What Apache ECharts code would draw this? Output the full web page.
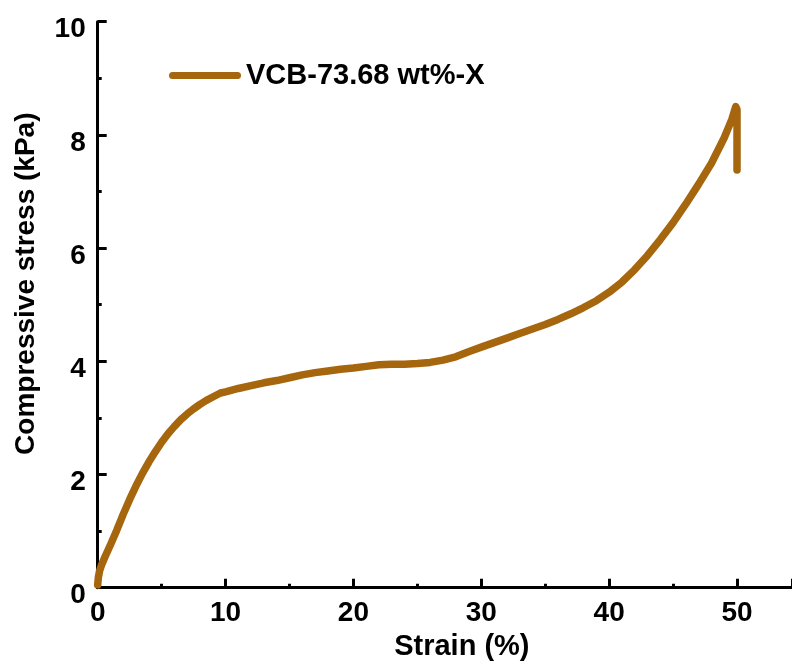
<!DOCTYPE html>
<html>
<head>
<meta charset="utf-8">
<script src="https://cdn.jsdelivr.net/npm/echarts@6/dist/echarts.min.js"></script>
<style>
html,body{margin:0;padding:0;background:#fff;}
#chart{width:792px;height:670px;}
</style>
</head>
<body>
<div id="chart"></div>
<script>
const seriesName = 'VCB-73.68 wt%-X';
const strain = [0, 0.05, 0.15, 0.3, 0.6, 1, 1.5, 2, 2.5, 3, 3.5, 4, 4.5, 5, 5.5, 6, 6.5, 7, 7.5, 8, 8.5, 9, 9.6, 10, 11, 12, 13, 14, 15, 16, 17, 18, 19, 20, 21, 22, 23, 24, 25, 26, 27, 28, 29, 30, 31, 32, 33, 34, 35, 36, 37, 38, 39, 40, 41, 42, 43, 44, 45, 46, 47, 48, 49, 49.6, 49.9, 50, 50];
const stress = [0.05, 0.18, 0.3, 0.4, 0.56, 0.76, 1.02, 1.3, 1.56, 1.8, 2.02, 2.22, 2.4, 2.57, 2.72, 2.85, 2.97, 3.07, 3.16, 3.24, 3.31, 3.37, 3.44, 3.46, 3.52, 3.57, 3.62, 3.66, 3.71, 3.76, 3.8, 3.83, 3.86, 3.88, 3.91, 3.94, 3.95, 3.95, 3.96, 3.98, 4.02, 4.08, 4.17, 4.25, 4.33, 4.41, 4.49, 4.57, 4.65, 4.74, 4.84, 4.95, 5.07, 5.22, 5.4, 5.62, 5.87, 6.15, 6.45, 6.78, 7.13, 7.5, 7.95, 8.28, 8.5, 8.45, 7.38];
const xTicks = [0, 10, 20, 30, 40, 50];
const yTicks = [0, 2, 4, 6, 8, 10];

const lineColor = '#A5660E';
const font = 'Liberation Sans, Arial, sans-serif';
const chart = echarts.init(document.getElementById('chart'), null, {renderer: 'canvas'});
const data = strain.map((x, i) => [x, stress[i]]);

chart.setOption({
  animation: false,
  backgroundColor: '#fff',
  grid: {left: 97.7, top: 21.7, bottom: 82.3, right: 0, show: false},
  legend: {
    show: true,
    left: 164, top: 56,
    itemWidth: 72, itemHeight: 7,
    icon: 'path://M3.5,0 L68.5,0 A3.5,3.5 0 0 1 68.5,7 L3.5,7 A3.5,3.5 0 0 1 3.5,0 Z',
    textStyle: {fontFamily: font, fontWeight: 'bold', fontSize: 29, color: '#000'},
    data: [{name: seriesName, itemStyle: {color: lineColor}}]
  },
  xAxis: [{
    type: 'value', min: 0, max: 54.3, interval: 10, position: 'bottom',
    name: 'Strain (%)', nameLocation: 'middle', nameGap: 33,
    nameTextStyle: {fontFamily: font, fontWeight: 'bold', fontSize: 29, color: '#000', padding: [0, 0, 0, 34]},
    axisLine: {show: true, onZero: false, lineStyle: {color: '#000', width: 3}},
    axisTick: {show: true, inside: true, length: 9, lineStyle: {color: '#000', width: 3}},
    minorTick: {show: true, splitNumber: 2, length: 4, lineStyle: {color: '#000', width: 3}},
    splitLine: {show: false},
    axisLabel: {
      fontFamily: font, fontWeight: 'bold', fontSize: 28, color: '#000', margin: 12,
      showMaxLabel: false,
      formatter: v => xTicks.includes(v) ? String(v) : ''
    }
  }, {
    type: 'value', min: 0, max: 54.3, position: 'top',
    axisLine: {show: true, lineStyle: {color: '#000', width: 3}},
    axisTick: {show: false}, axisLabel: {show: false}, splitLine: {show: false}
  }],
  yAxis: {
    type: 'value', min: 0, max: 10, interval: 2,
    name: 'Compressive stress (kPa)', nameLocation: 'middle', nameGap: 57,
    nameTextStyle: {fontFamily: font, fontWeight: 'bold', fontSize: 28, color: '#000', padding: [0, 0, 0, 42]},
    axisLine: {show: true, onZero: false, lineStyle: {color: '#000', width: 3}},
    axisTick: {show: true, inside: true, length: 9, lineStyle: {color: '#000', width: 3}},
    minorTick: {show: true, splitNumber: 2, length: 4, lineStyle: {color: '#000', width: 3}},
    splitLine: {show: false},
    axisLabel: {
      fontFamily: font, fontWeight: 'bold', fontSize: 28, color: '#000', margin: 12,
      verticalAlign: 'top', lineHeight: 16,
      formatter: v => yTicks.includes(v) ? String(v) : ''
    }
  },
  series: [{
    name: seriesName,
    type: 'line',
    data: data,
    showSymbol: false,
    symbol: 'none',
    smooth: false,
    lineStyle: {color: lineColor, width: 7.5, cap: 'round', join: 'round'},
    itemStyle: {color: lineColor}
  }]
});
</script>
</body>
</html>
